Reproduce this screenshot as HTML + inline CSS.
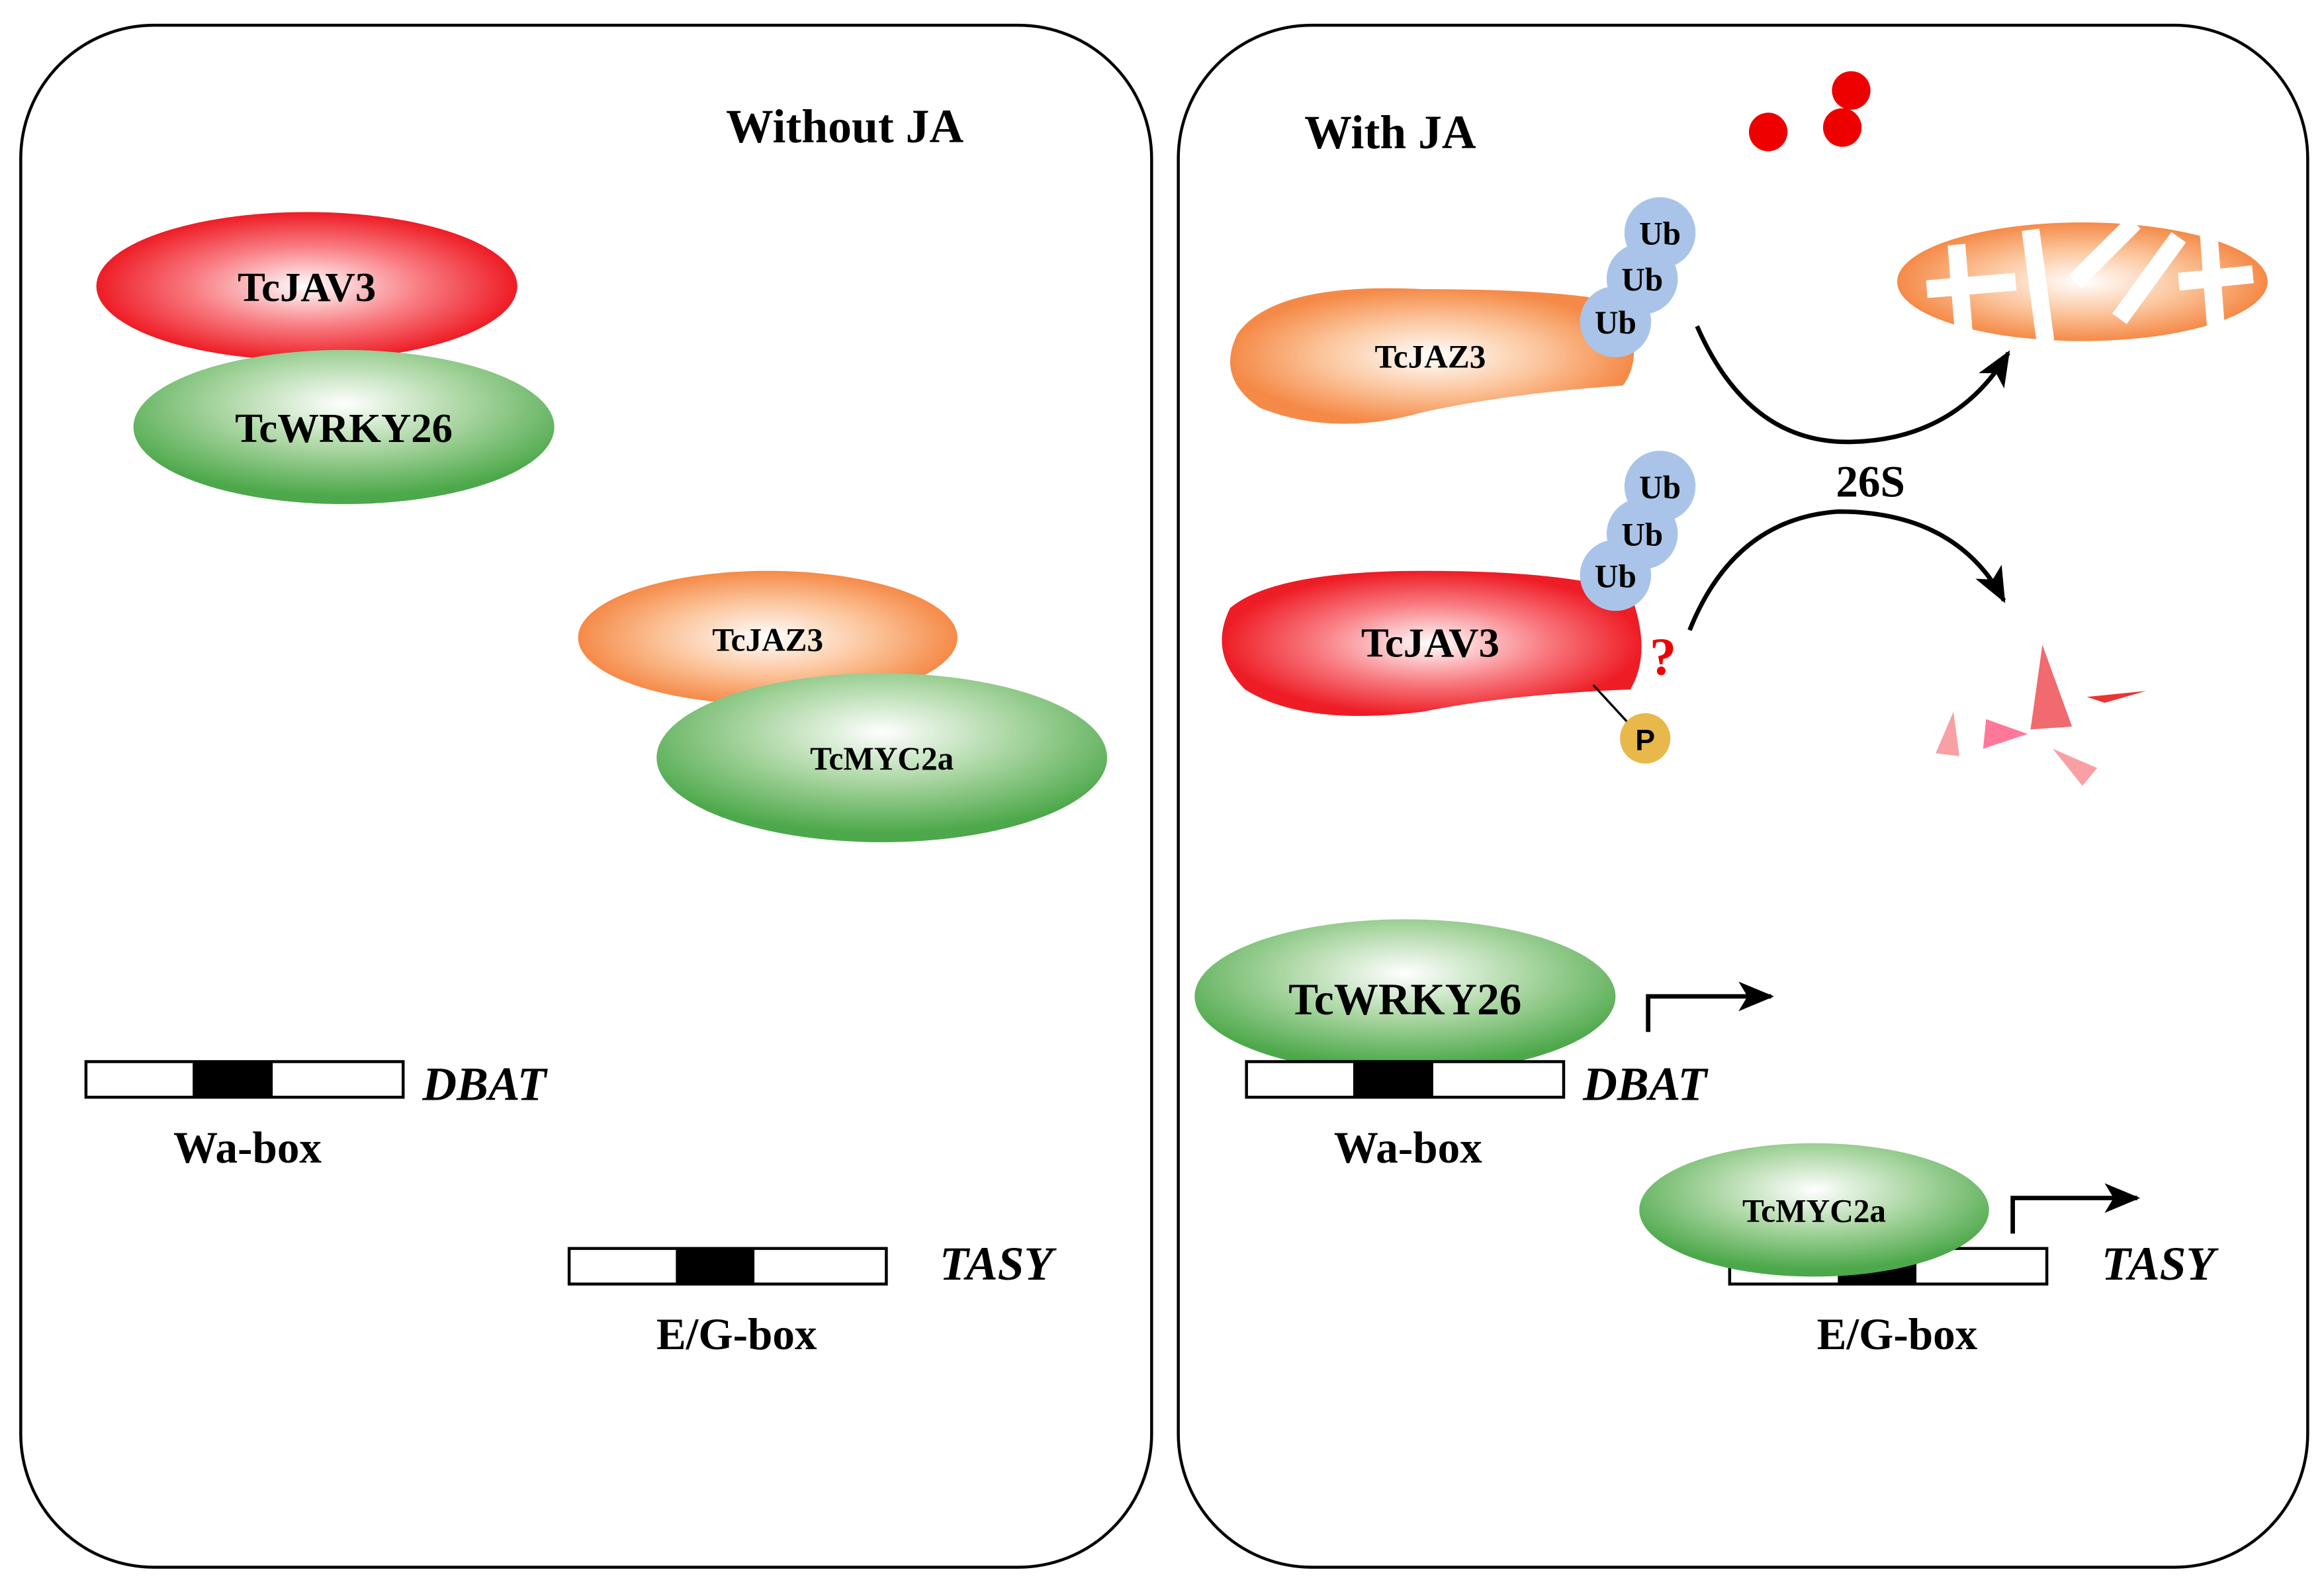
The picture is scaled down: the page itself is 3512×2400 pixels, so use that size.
<!DOCTYPE html>
<html><head><meta charset="utf-8"><style>html,body{margin:0;padding:0;background:#fff}svg{display:block}</style></head>
<body>
<svg width="3512" height="2400" viewBox="0 0 1568 1071" preserveAspectRatio="none" xmlns="http://www.w3.org/2000/svg" font-family="'Liberation Serif', serif" font-weight="bold">
<defs>
<radialGradient id="red" cx="50%" cy="50%" r="50%"><stop offset="0" stop-color="#fff"/><stop offset="0.55" stop-color="#f87a80"/><stop offset="1" stop-color="#ee1c25"/></radialGradient>
<radialGradient id="grn" cx="50%" cy="35%" r="60%"><stop offset="0" stop-color="#fff"/><stop offset="0.5" stop-color="#a8d5a0"/><stop offset="1" stop-color="#4ca84a"/></radialGradient>
<radialGradient id="org" cx="50%" cy="50%" r="50%"><stop offset="0" stop-color="#fff"/><stop offset="0.55" stop-color="#fbc49a"/><stop offset="1" stop-color="#f58a48"/></radialGradient>
<marker id="ah2" markerWidth="24" markerHeight="20" refX="22" refY="10" orient="auto" markerUnits="userSpaceOnUse"><path d="M0,0 L24,10 L0,20 L6,10 z" fill="#000"/></marker>
</defs>
<rect x="14" y="17" width="763" height="1040" rx="90" fill="#fff" stroke="#000" stroke-width="2"/>
<rect x="795" y="17" width="762" height="1040" rx="90" fill="#fff" stroke="#000" stroke-width="2"/>

<g font-size="32" text-anchor="middle">
<text x="570" y="96">Without JA</text>
<text x="938" y="100">With JA</text>
</g>

<ellipse cx="207" cy="193" rx="142" ry="50" fill="url(#red)"/>
<ellipse cx="232" cy="288" rx="142" ry="52" fill="url(#grn)"/>
<ellipse cx="518" cy="430" rx="128" ry="45" fill="url(#org)"/>
<ellipse cx="595" cy="511" rx="152" ry="57" fill="url(#grn)"/>
<g text-anchor="middle">
<text x="207" y="203" font-size="28">TcJAV3</text>
<text x="232" y="298" font-size="28">TcWRKY26</text>
<text x="518" y="439" font-size="22">TcJAZ3</text>
<text x="595" y="519" font-size="22">TcMYC2a</text>
</g>
<rect x="58" y="716" width="214" height="24" fill="#fff" stroke="#000" stroke-width="2"/>
<rect x="130" y="716" width="54" height="24" fill="#000"/>
<text x="285" y="742" font-size="32" font-style="italic">DBAT</text>
<text x="167" y="784" font-size="30" text-anchor="middle">Wa-box</text>
<rect x="384" y="842" width="214" height="24" fill="#fff" stroke="#000" stroke-width="2"/>
<rect x="456" y="842" width="53" height="24" fill="#000"/>
<text x="634" y="863" font-size="32" font-style="italic">TASY</text>
<text x="497" y="910" font-size="30" text-anchor="middle">E/G-box</text>

<circle cx="1193" cy="89" r="13" fill="#e00"/>
<circle cx="1249" cy="61" r="13" fill="#e00"/>
<circle cx="1243" cy="86" r="13" fill="#e00"/>

<path d="M835,225 Q860,190 960,195 Q1060,195 1095,205 Q1110,240 1095,260 Q1020,265 960,278 Q900,295 850,275 Q820,255 835,225 z" fill="url(#org)"/>
<text x="965" y="248" font-size="22" text-anchor="middle">TcJAZ3</text>

<path d="M830,410 Q860,385 960,385 Q1060,385 1100,400 Q1115,440 1100,465 Q1020,468 960,480 Q880,490 840,465 Q815,440 830,410 z" fill="url(#red)"/>
<text x="965" y="443" font-size="28" text-anchor="middle">TcJAV3</text>

<g fill="#a9c4e8"><circle cx="1120" cy="157" r="24"/><circle cx="1108" cy="188" r="24"/><circle cx="1090" cy="217" r="24"/>
<circle cx="1120" cy="328" r="24"/><circle cx="1108" cy="360" r="24"/><circle cx="1090" cy="388" r="24"/></g>
<g font-size="22" text-anchor="middle"><text x="1120" y="165">Ub</text><text x="1108" y="196">Ub</text><text x="1090" y="225">Ub</text>
<text x="1120" y="336">Ub</text><text x="1108" y="368">Ub</text><text x="1090" y="396">Ub</text></g>

<ellipse cx="1405" cy="190" rx="125" ry="40" fill="url(#org)"/>
<g stroke="#fff" stroke-width="12" fill="none"><path d="M1320,165 L1325,225 M1300,195 L1360,190 M1370,155 L1380,230 M1400,190 L1440,150 M1430,215 L1470,160 M1470,190 L1520,185 M1490,155 L1495,220"/></g>

<path d="M1145,220 Q1180,300 1250,298 Q1320,296 1355,238" fill="none" stroke="#000" stroke-width="3" marker-end="url(#ah2)"/>
<text x="1262" y="335" font-size="30" text-anchor="middle">26S</text>
<path d="M1140,425 Q1170,350 1240,345 Q1320,345 1352,405" fill="none" stroke="#000" stroke-width="3" marker-end="url(#ah2)"/>

<text x="1122" y="455" font-size="36" fill="#e00" text-anchor="middle">?</text>
<line x1="1075" y1="462" x2="1098" y2="487" stroke="#000" stroke-width="1.5"/>
<circle cx="1110" cy="498" r="17" fill="#e8b84a"/>
<text x="1110" y="506" font-size="20" text-anchor="middle" font-family="'Liberation Sans', sans-serif">P</text>

<g fill="#f06a70"><path d="M1378,435 L1398,490 L1370,492 z"/><path d="M1340,485 L1368,495 L1338,505 z" fill="#f79"/><path d="M1318,480 L1322,510 L1306,508 z" fill="#f9a0a5"/><path d="M1408,470 L1448,466 L1420,474 z" fill="#e33"/><path d="M1385,505 L1415,518 L1405,530 z" fill="#f9a0a5"/></g>

<ellipse cx="948" cy="672" rx="142" ry="52" fill="url(#grn)"/>
<rect x="841" y="716" width="214" height="24" fill="#fff" stroke="#000" stroke-width="2"/>
<rect x="913" y="716" width="54" height="24" fill="#000"/>
<text x="948" y="684" font-size="30" text-anchor="middle">TcWRKY26</text>
<text x="1068" y="742" font-size="32" font-style="italic">DBAT</text>
<text x="950" y="784" font-size="30" text-anchor="middle">Wa-box</text>
<path d="M1112,696 L1112,672 L1195,672" fill="none" stroke="#000" stroke-width="3" marker-end="url(#ah2)"/>

<rect x="1167" y="842" width="214" height="24" fill="#fff" stroke="#000" stroke-width="2"/>
<rect x="1240" y="842" width="53" height="24" fill="#000"/>
<ellipse cx="1224" cy="816" rx="118" ry="45" fill="url(#grn)"/>
<text x="1224" y="824" font-size="22" text-anchor="middle">TcMYC2a</text>
<path d="M1358,832 L1358,808 L1442,808" fill="none" stroke="#000" stroke-width="3" marker-end="url(#ah2)"/>
<text x="1418" y="863" font-size="32" font-style="italic">TASY</text>
<text x="1280" y="910" font-size="30" text-anchor="middle">E/G-box</text>
</svg>
</body></html>
